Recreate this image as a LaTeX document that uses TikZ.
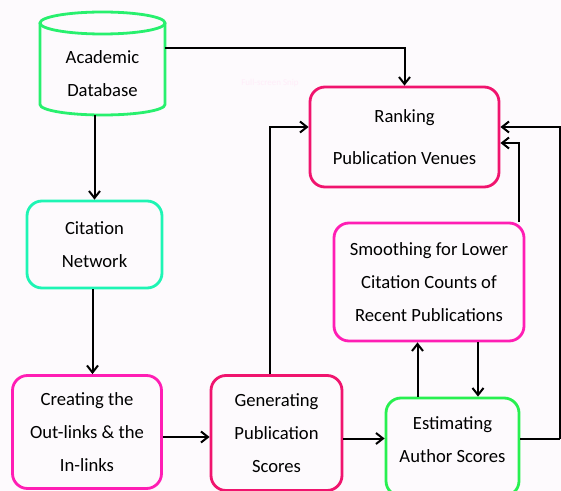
\documentclass[tikz,border=0pt]{standalone}
\usepackage{fontspec}
\setmainfont{Carlito}
\usetikzlibrary{arrows.meta}
\usetikzlibrary{calc}

\definecolor{dbgreen}{RGB}{40,240,110}
\definecolor{aqua}{RGB}{30,245,180}
\definecolor{crimson}{RGB}{240,20,110}
\definecolor{magpink}{RGB}{255,30,180}
\definecolor{estgreen}{RGB}{40,240,80}
\definecolor{paper}{RGB}{253,250,253}

\tikzset{
  box/.style={draw,line width=2.8bp,rounded corners=15bp,align=center,inner sep=0pt},
  arr/.style={line width=2bp,-{Straight Barb[length=7bp,width=11bp]}},
  ln/.style={line width=2bp}
}

\begin{document}
\begin{tikzpicture}[x=1bp,y=-1bp,font=\fontsize{18.7}{33}\selectfont]
    \fill[paper] (0,0) rectangle (561,491);
    \useasboundingbox (0,0) rectangle (561,491);

		% database (cylinder drawn round the text)
		\node [align=center,inner sep=0pt,minimum width=125bp,minimum height=82bp] (db) at (102.5,74) {Academic\\Database};
		\draw [dbgreen,line width=2.8bp] (40,23) -- (40,104.5) arc (180:0:62.5 and 10.5) -- (165,23);
		\draw [dbgreen,line width=2.8bp] (102.5,23) ellipse (62.5 and 11);

		\node [box,draw=crimson,minimum width=189bp,minimum height=100bp] (rank) at (404.5,137) {Ranking\\[9bp]Publication Venues};
		\node [box,draw=aqua,minimum width=135bp,minimum height=87bp] (cit) at (94.5,244.5) {Citation\\Network};
		\node [box,draw=magpink,minimum width=149bp,minimum height=113bp] (crt) at (87,432) {Creating the\\Out-links \& the\\In-links};
		\node [box,draw=crimson,minimum width=131bp,minimum height=115bp] (gen) at (276.5,433) {Generating\\Publication\\Scores};
		\node [box,draw=estgreen,minimum width=133bp,minimum height=98bp] (est) at (452.5,447) {};
		\node [align=center,inner sep=0pt] (estlbl) at (452.5,440) {Estimating\\Author Scores};
		\node [box,draw=magpink,minimum width=190bp,minimum height=118bp] (smo) at (429,282) {Smoothing for Lower\\Citation Counts of\\Recent Publications};

		\node [text=magpink!8,font=\fontsize{9}{10}\selectfont] (snip) at (270,83) {Full-screen Snip};

		\coordinate (edge) at (560,439);

		\draw [arr] ([yshift=26bp]db.east) -| (rank.north);
		\draw [arr] (db.south -| cit.north) -- (cit.north);
		\draw [arr] ([xshift=-2bp]cit.south) -- ([xshift=-2bp]cit.south |- crt.north);
		\draw [arr] ([yshift=-5bp]crt.east) -- ([yshift=-5bp]crt.east -| gen.west);
		\draw [arr] ([xshift=-6.5bp]gen.north) |- ([yshift=10bp]rank.west);
		\draw [arr] ([yshift=-5.5bp]gen.east) -- ([yshift=-5.5bp]gen.east -| est.west);
		\draw [arr] ([xshift=-35bp]est.north) -- ([xshift=-35bp]est.north |- smo.south);
		\draw [arr] ([xshift=25.5bp]est.north |- smo.south) -- ([xshift=25.5bp]est.north);
		\draw [arr] ([xshift=90bp]smo.north) |- ([yshift=-6bp]rank.east);
		\draw [ln] (est.east |- edge) -- (edge);
		\draw [arr] (edge) |- ([yshift=10bp]rank.east);
\end{tikzpicture}
\end{document}
